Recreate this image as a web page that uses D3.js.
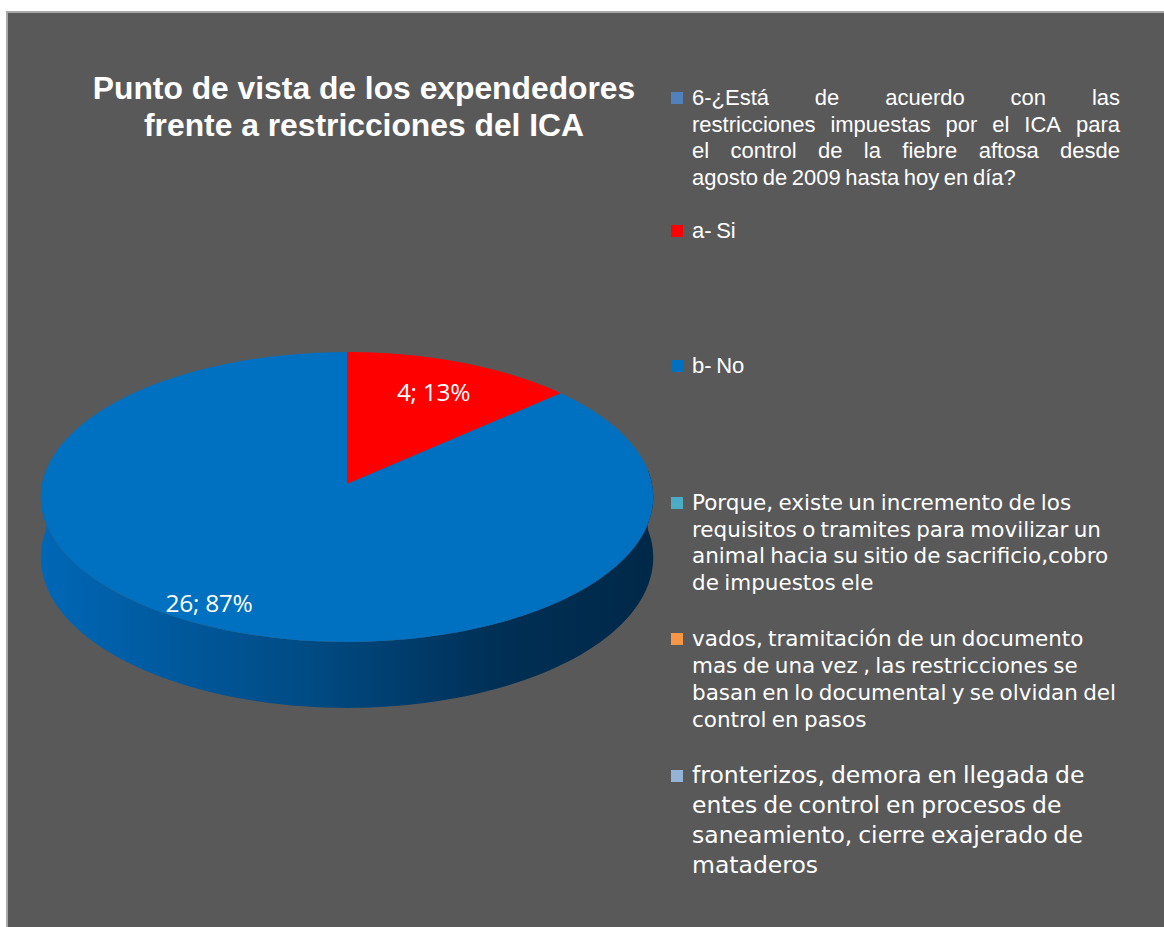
<!DOCTYPE html>
<html>
<head>
<meta charset="utf-8">
<script src="https://cdn.jsdelivr.net/npm/d3@7"></script>
<style>
  html, body { margin: 0; padding: 0; background: #fff; }
  svg { display: block; }
</style>
</head>
<body>
<div id="chart"></div>
<script>
// data
const titleLines = ["Punto de vista de los expendedores", "frente a restricciones del ICA"];
const slices = [
  { name: "a- Si", value: 4, pct: "13%", color: "#ff0000" },
  { name: "b- No", value: 26, pct: "87%", color: "#0070c0" }
];
const legendItems = [
  { color: "#4f81bd", justify: true, font: "22px 'Liberation Sans', Arial", lh: 26.5, lines: [
    "6-¿Está de acuerdo con las",
    "restricciones impuestas por el ICA para",
    "el control de la fiebre aftosa desde",
    "agosto de 2009 hasta hoy en día?"] },
  { color: "#ff0000", font: "22px 'Liberation Sans', Arial", lh: 26.5, lines: ["a- Si"] },
  { color: "#0070c0", font: "22px 'Liberation Sans', Arial", lh: 26.5, lines: ["b- No"] },
  { color: "#4bacc6", font: "21.5px 'DejaVu Sans'", lh: 26.7, lines: [
    "Porque, existe un incremento de los",
    "requisitos o tramites para movilizar un",
    "animal hacia su sitio de sacrificio,cobro",
    "de impuestos ele"] },
  { color: "#f79646", font: "21.5px 'DejaVu Sans'", lh: 27, lines: [
    "vados, tramitación de un documento",
    "mas de una vez , las restricciones se",
    "basan en lo documental y se olvidan del",
    "control en pasos"] },
  { color: "#95b3d7", font: "23.5px 'DejaVu Sans'", lh: 30, lines: [
    "fronterizos, demora en llegada de",
    "entes de control en procesos de",
    "saneamiento, cierre exajerado de",
    "mataderos"] }
];
const legendTops = [105, 238, 373, 510, 646, 783];

const width = 1164, height = 927;
const svg = d3.select("#chart").append("svg")
  .attr("width", width).attr("height", height);

const defs = svg.append("defs");
const grad = defs.append("linearGradient").attr("id", "side")
  .attr("gradientUnits", "userSpaceOnUse")
  .attr("x1", 41).attr("x2", 653).attr("y1", 0).attr("y2", 0);
grad.selectAll("stop")
  .data([[0, "#0067b6"], [0.45, "#004a82"], [0.75, "#002f55"], [1, "#002848"]])
  .join("stop")
  .attr("offset", d => d[0]).attr("stop-color", d => d[1]);

svg.append("rect")
  .attr("x", 7).attr("y", 12).attr("width", width).attr("height", height)
  .attr("fill", "#595959").attr("stroke", "#a8a8a8").attr("stroke-width", 2);

// title
svg.append("text")
  .attr("x", 364).attr("y", 99)
  .attr("text-anchor", "middle")
  .attr("fill", "#fff")
  .style("font", "bold 31.8px 'Liberation Sans', Arial, sans-serif")
  .selectAll("tspan").data(titleLines).join("tspan")
  .attr("x", 364).attr("dy", (d, i) => i ? 37 : 0)
  .text(d => d);

// 3D pie, simple perspective of a flat disk
const cx = 347, R = 305, p = 484, q = 100.4, k = -0.0897, depth = 60;
const proj = (r, a, down) => {
  const u = r * Math.sin(a), v = -r * Math.cos(a);
  const den = 1 + k * v;
  return [cx + R * u / den, (p + q * v) / den + (down ? depth / den : 0)];
};
const pie = d3.pie().sort(null).value(d => d.value);
const arcs = pie(slices);
const line = d3.line();
const steps = a0 => d3.range(0, 101).map(i => a0[0] + (a0[1] - a0[0]) * i / 100);

// side wall of the front
const g = svg.append("g");
arcs.forEach(d => {
  const a0 = Math.max(d.startAngle, Math.PI / 2 - 0.1);
  const a1 = Math.min(d.endAngle, 3 * Math.PI / 2 + 0.1);
  if (a1 <= a0) return;
  const angs = steps([a0, a1]);
  const pts = angs.map(a => proj(1, a, false)).concat(angs.slice().reverse().map(a => proj(1, a, true)));
  g.append("path").attr("d", line(pts) + "Z").attr("fill", "url(#side)");
});

// top faces
g.selectAll("path.top").data(arcs).join("path")
  .attr("class", "top")
  .attr("fill", d => d.data.color)
  .attr("d", d => line([proj(0, 0, false)].concat(steps([d.startAngle, d.endAngle]).map(a => proj(1, a, false)))) + "Z");

// data labels
g.selectAll("text").data(arcs).join("text")
  .attr("transform", d => {
    const big = d.data.value > 10;
    const c = proj(big ? 0.88 : 0.74, (d.startAngle + d.endAngle) / 2 + (big ? 0.08 : 0), false);
    return `translate(${c[0]},${c[1]})`;
  })
  .attr("text-anchor", "middle").attr("dy", "0.36em")
  .attr("fill", "#fff")
  .style("font", "24.5px 'Open Sans', sans-serif")
  .style("letter-spacing", "-0.3px")
  .text(d => `${d.value}; ${d.data.pct}`);

// legend
const lx = 692, lw = 428;
const leg = svg.append("g").attr("fill", "#fff");
legendItems.forEach((item, i) => {
  const top = legendTops[i];
  leg.append("rect").attr("x", 671).attr("y", top - 13).attr("width", 12).attr("height", 12)
    .attr("fill", item.color);
  item.lines.forEach((ln, j) => {
    const t = leg.append("text")
      .attr("y", top + j * item.lh)
      .style("font", item.font + ", sans-serif")
      .style("word-spacing", "-1.5px");
    if (item.justify && j < item.lines.length - 1) {
      const words = ln.split(" ");
      const spans = t.selectAll("tspan").data(words).join("tspan").text(w => w);
      const ws = [];
      spans.each(function () { ws.push(this.getComputedTextLength()); });
      const gap = (lw - d3.sum(ws)) / (words.length - 1);
      let x = lx;
      spans.attr("x", (w, n) => { const xx = x; x += ws[n] + gap; return xx; });
    } else {
      t.attr("x", lx).text(ln);
    }
  });
});
</script>
</body>
</html>
